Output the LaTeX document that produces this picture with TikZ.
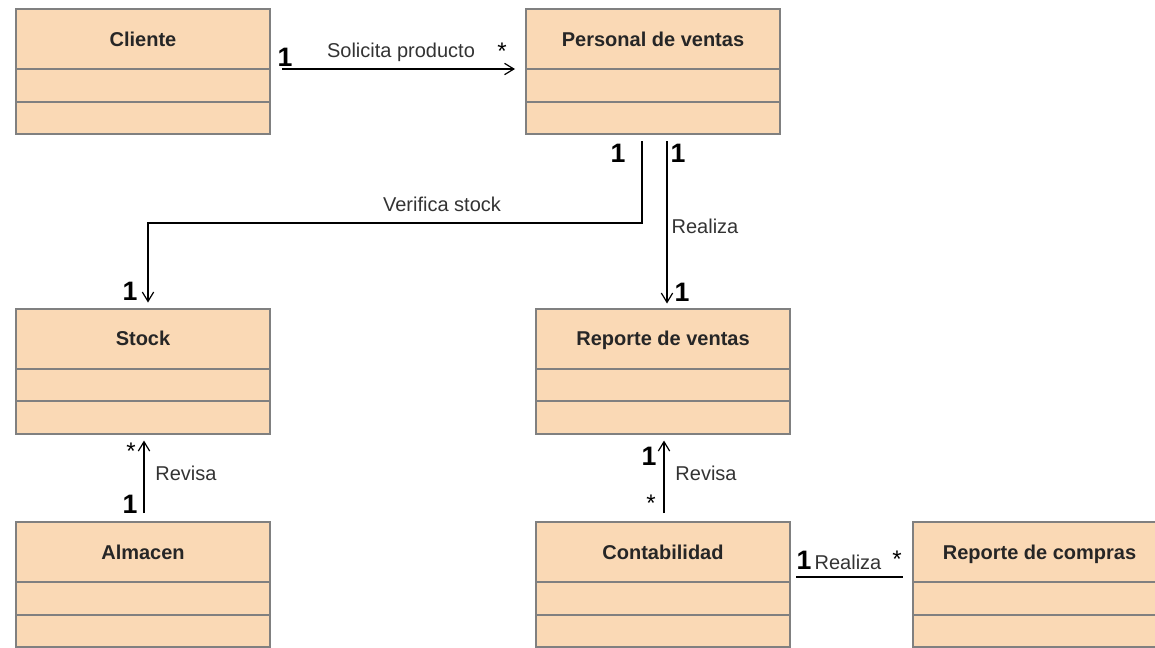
\documentclass[tikz,border=0pt]{standalone}
\usepackage{fontspec}
\setmainfont{Liberation Sans}
\usepackage{xcolor}
\usepackage{tikz}
\usetikzlibrary{arrows.meta, positioning}

\definecolor{classfill}{HTML}{FAD9B5}
\definecolor{classline}{HTML}{808080}
\definecolor{labeltext}{HTML}{333333}

\begin{document}
\begin{tikzpicture}[x=0.75pt, y=-0.75pt,
    classhead/.style={rectangle, draw=classline, fill=classfill, line width=1.5pt, outer sep=0pt,
        minimum width=190.5pt, minimum height=45pt, text height=10.7pt, text depth=0pt,
        font=\fontsize{15pt}{18pt}\selectfont\bfseries, text=black!85},
    classrow/.style={rectangle, draw=classline, fill=classfill, line width=1.5pt, outer sep=0pt,
        minimum width=190.5pt, minimum height=24.4pt},
    arrow/.style={line width=0.9pt, ->, >={Straight Barb[length=7pt, width=8.5pt]}},
    assoc/.style={line width=0.9pt},
    lbl/.style={font=\fontsize{15pt}{18pt}\selectfont, text=labeltext, inner sep=0pt},
    mult/.style={font=\fontsize{20pt}{24pt}\selectfont\bfseries, inner sep=0pt},
    star/.style={font=\fontsize{18pt}{20pt}\selectfont, inner sep=0pt}]

    \useasboundingbox (0,0) rectangle (1155,647);

    % classes
    \node [classhead] (cliente) at (143,39) {Cliente};
    \node [classrow, below=0pt of cliente] (cliente-a) {};
    \node [classrow, below=0pt of cliente-a] (cliente-b) {};

    \node [classhead] (personal) at (653,39) {Personal de ventas};
    \node [classrow, below=0pt of personal] (personal-a) {};
    \node [classrow, below=0pt of personal-a] (personal-b) {};

    \node [classhead] (stock) at (143,338.5) {Stock};
    \node [classrow, below=0pt of stock] (stock-a) {};
    \node [classrow, below=0pt of stock-a] (stock-b) {};

    \node [classhead] (repventas) at (663,338.5) {Reporte de ventas};
    \node [classrow, below=0pt of repventas] (repventas-a) {};
    \node [classrow, below=0pt of repventas-a] (repventas-b) {};

    \node [classhead] (almacen) at (143,552) {Almacen};
    \node [classrow, below=0pt of almacen] (almacen-a) {};
    \node [classrow, below=0pt of almacen-a] (almacen-b) {};

    \node [classhead] (contabilidad) at (663,552) {Contabilidad};
    \node [classrow, below=0pt of contabilidad] (contabilidad-a) {};
    \node [classrow, below=0pt of contabilidad-a] (contabilidad-b) {};

    \node [classhead] (repcompras) at (1039.5,552) {Reporte de compras};
    \node [classrow, below=0pt of repcompras] (repcompras-a) {};
    \node [classrow, below=0pt of repcompras-a] (repcompras-b) {};

    % associations
    \draw [arrow] ([shift={(12,0)}]cliente.south east) -- ([shift={(-11,0)}]personal.south west);
    \draw [arrow] ([shift={(-11,7)}]personal-b.south) -- ++(0,82) -| ([shift={(5,-6)}]stock.north);
    \draw [arrow] ([shift={(14,7)}]personal-b.south) -- ([shift={(4,-5)}]repventas.north);
    \draw [arrow] ([shift={(1,-9)}]almacen.north) -- ([shift={(1,7)}]stock-b.south);
    \draw [arrow] ([shift={(1,-9)}]contabilidad.north) -- ([shift={(1,7)}]repventas-b.south);
    \draw [assoc] ([shift={(6,-5)}]contabilidad.south east) -- ([shift={(-10,-5)}]repcompras.south west);

    % labels and multiplicities
    \node [mult] (m-cli) at (285,57) {1};
    \node [star] (m-pers) at (502,51) {*};
    \node [lbl] (l-solicita) at (401,52) {Solicita producto};

    \node [mult] (m-pers-v) at (618,153) {1};
    \node [mult] (m-pers-r) at (678,153) {1};
    \node [lbl] (l-verifica) at (442,204.5) {Verifica stock};
    \node [lbl] (l-realiza) at (705,226.5) {Realiza};
    \node [mult] (m-stock) at (130,291) {1};
    \node [mult] (m-repv) at (682,292) {1};

    \node [star] (m-stock-r) at (131,451) {*};
    \node [lbl] (l-revisa-a) at (186,473.5) {Revisa};
    \node [mult] (m-alm) at (130,504) {1};

    \node [mult] (m-repv-r) at (649,456) {1};
    \node [lbl] (l-revisa-c) at (706,473.5) {Revisa};
    \node [star] (m-cont) at (651,503) {*};

    \node [mult] (m-cont-r) at (804,560) {1};
    \node [lbl] (l-realiza-c) at (848,562) {Realiza};
    \node [star] (m-repc) at (897,559) {*};
\end{tikzpicture}
\end{document}
